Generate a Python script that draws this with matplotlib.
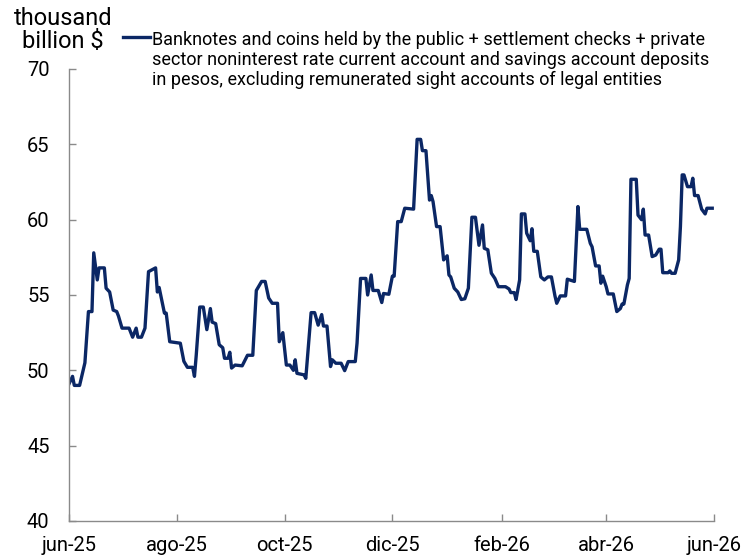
import matplotlib
matplotlib.use("Agg")
import matplotlib.pyplot as plt
from matplotlib.lines import Line2D
import pandas as pd

plt.rcParams['font.family'] = ['Roboto', 'DejaVu Sans']

dates = [
    "2025-06-01", "2025-06-03", "2025-06-04", "2025-06-07", "2025-06-10", "2025-06-12",
    "2025-06-14", "2025-06-15", "2025-06-17", "2025-06-18", "2025-06-21", "2025-06-22",
    "2025-06-24", "2025-06-26", "2025-06-28", "2025-06-29", "2025-07-01", "2025-07-05",
    "2025-07-07", "2025-07-09", "2025-07-10", "2025-07-12", "2025-07-14", "2025-07-16",
    "2025-07-20", "2025-07-21", "2025-07-22", "2025-07-25", "2025-07-26", "2025-07-28",
    "2025-08-03", "2025-08-05", "2025-08-07", "2025-08-10", "2025-08-11", "2025-08-12",
    "2025-08-14", "2025-08-16", "2025-08-18", "2025-08-20", "2025-08-21", "2025-08-23",
    "2025-08-25", "2025-08-27", "2025-08-28", "2025-08-30", "2025-08-31", "2025-09-01",
    "2025-09-03", "2025-09-07", "2025-09-10", "2025-09-13", "2025-09-15", "2025-09-18",
    "2025-09-20", "2025-09-22", "2025-09-24", "2025-09-27", "2025-09-28", "2025-09-30",
    "2025-10-02", "2025-10-04", "2025-10-06", "2025-10-07", "2025-10-08", "2025-10-12",
    "2025-10-13", "2025-10-16", "2025-10-18", "2025-10-20", "2025-10-22", "2025-10-23",
    "2025-10-25", "2025-10-27", "2025-10-28", "2025-10-30", "2025-11-02", "2025-11-04",
    "2025-11-06", "2025-11-10", "2025-11-11", "2025-11-13", "2025-11-16", "2025-11-17",
    "2025-11-19", "2025-11-20", "2025-11-23", "2025-11-25", "2025-11-26", "2025-11-29",
    "2025-12-01", "2025-12-02", "2025-12-04", "2025-12-06", "2025-12-08", "2025-12-13",
    "2025-12-15", "2025-12-17", "2025-12-18", "2025-12-20", "2025-12-22", "2025-12-23",
    "2025-12-24", "2025-12-26", "2025-12-28", "2025-12-30", "2026-01-01", "2026-01-02",
    "2026-01-03", "2026-01-05", "2026-01-07", "2026-01-09", "2026-01-11", "2026-01-13",
    "2026-01-15", "2026-01-17", "2026-01-19", "2026-01-21", "2026-01-22", "2026-01-24",
    "2026-01-26", "2026-01-28", "2026-01-30", "2026-02-03", "2026-02-05", "2026-02-06",
    "2026-02-08", "2026-02-09", "2026-02-11", "2026-02-12", "2026-02-14", "2026-02-15",
    "2026-02-17", "2026-02-18", "2026-02-19", "2026-02-21", "2026-02-23", "2026-02-25",
    "2026-02-27", "2026-03-01", "2026-03-03", "2026-03-04", "2026-03-06", "2026-03-09",
    "2026-03-10", "2026-03-14", "2026-03-16", "2026-03-17", "2026-03-21", "2026-03-23",
    "2026-03-24", "2026-03-26", "2026-03-28", "2026-03-29", "2026-03-30", "2026-04-01",
    "2026-04-02", "2026-04-05", "2026-04-07", "2026-04-09", "2026-04-10", "2026-04-11",
    "2026-04-13", "2026-04-14", "2026-04-15", "2026-04-18", "2026-04-19", "2026-04-21",
    "2026-04-22", "2026-04-23", "2026-04-25", "2026-04-27", "2026-04-29", "2026-05-01",
    "2026-05-02", "2026-05-03", "2026-05-06", "2026-05-07", "2026-05-08", "2026-05-10",
    "2026-05-12", "2026-05-13", "2026-05-14", "2026-05-15", "2026-05-17", "2026-05-19",
    "2026-05-20", "2026-05-21", "2026-05-23", "2026-05-25", "2026-05-27", "2026-05-28",
    "2026-05-31",
]

values = [
    49.1, 49.6, 49.0, 49.0, 50.5, 53.9,
    53.9, 57.8, 56.0, 56.8, 56.8, 55.45,
    55.2, 54.0, 53.9, 53.6, 52.8, 52.8,
    52.2, 52.8, 52.2, 52.2, 52.8, 56.55,
    56.8, 55.2, 55.5, 53.8, 53.8, 51.9,
    51.8, 50.6, 50.2, 50.2, 49.6, 51.0,
    54.2, 54.2, 52.7, 54.1, 53.2, 53.1,
    51.7, 51.5, 50.8, 50.8, 51.2, 50.15,
    50.35, 50.3, 51.0, 51.0, 55.3, 55.9,
    55.9, 54.8, 54.45, 54.45, 51.9, 52.5,
    50.35, 50.35, 50.0, 50.7, 49.8, 49.7,
    49.47, 53.83, 53.83, 53.0, 53.7, 52.94,
    52.94, 50.25, 50.7, 50.47, 50.47, 49.98,
    50.58, 50.58, 51.8, 56.1, 56.1, 55.0,
    56.33, 55.3, 55.3, 54.5, 55.1, 55.05,
    56.25, 56.25, 59.87, 59.87, 60.76, 60.7,
    65.33, 65.33, 64.58, 64.58, 61.3, 61.6,
    61.2, 59.54, 59.54, 57.33, 57.6, 56.33,
    56.2, 55.45, 55.2, 54.7, 54.75, 55.45,
    60.16, 60.16, 58.3, 59.65, 58.1, 58.0,
    56.45, 56.1, 55.55, 55.55, 55.4, 55.16,
    55.16, 54.7, 56.0, 60.38, 60.38, 59.1,
    58.6, 59.4, 57.9, 57.9, 56.2, 56.0,
    56.2, 56.2, 54.94, 54.45, 54.94, 54.94,
    56.05, 55.9, 60.87, 59.36, 59.36, 58.43,
    58.2, 56.93, 56.93, 55.78, 56.25, 55.55,
    55.07, 55.07, 53.9, 54.1, 54.4, 54.4,
    55.67, 56.1, 62.68, 62.68, 60.3, 60.0,
    60.7, 58.98, 58.98, 57.55, 57.65, 58.04,
    58.04, 56.48, 56.48, 56.6, 56.44, 56.44,
    57.33, 59.54, 62.97, 62.97, 62.19, 62.19,
    62.75, 61.6, 61.6, 60.7, 60.38, 60.76,
    60.76,
]

tick_dates = ["2025-06-01", "2025-08-01", "2025-10-01", "2025-12-01",
              "2026-02-01", "2026-04-01", "2026-06-01"]
tick_labels = ["jun-25", "ago-25", "oct-25", "dic-25", "feb-26", "abr-26", "jun-26"]
y_ticks = [40, 45, 50, 55, 60, 65, 70]

series_label = ("Banknotes and coins held by the public + settlement checks + private\n"
                "sector noninterest rate current account and savings account deposits\n"
                "in pesos, excluding remunerated sight accounts of legal entities")
unit_label = "thousand\nbillion $"

line_color = "#0b2765"
axis_color = "#8a8a8a"

fig = plt.figure(figsize=(7.56, 5.6), dpi=100)
ax = fig.add_axes([69 / 756, 1 - 521 / 560, (714 - 69) / 756, (521 - 69) / 560])

x = pd.to_datetime(dates)
ax.plot(x, values, color=line_color, lw=2.4, solid_joinstyle="round")

ax.set_xlim(pd.Timestamp("2025-06-01"), pd.Timestamp("2026-06-01"))
ax.set_ylim(40, 70)
ax.set_xticks(pd.to_datetime(tick_dates))
ax.set_xticklabels(tick_labels)
ax.set_yticks(y_ticks)

for s in ["top", "right"]:
    ax.spines[s].set_visible(False)
for s in ["left", "bottom"]:
    ax.spines[s].set_color(axis_color)
    ax.spines[s].set_linewidth(1.0)

ax.tick_params(axis="both", direction="in", length=5, width=1.0, color=axis_color,
               labelsize=14.5, labelcolor="#000000")
ax.tick_params(axis="x", pad=11)
ax.tick_params(axis="y", pad=14)

fig.text(63 / 756, 1 - 30 / 560, unit_label, ha="center", va="center",
         fontsize=17, linespacing=1.0)

# legend key
fig.add_artist(Line2D([123 / 756, 150 / 756], [1 - 37 / 560, 1 - 37 / 560],
                      color=line_color, lw=2.4, transform=fig.transFigure))
fig.text(152 / 756, 1 - 31 / 560, series_label, ha="left", va="top",
         fontsize=13.0, linespacing=1.15, transform=fig.transFigure)

fig.savefig("out.png", dpi=100)
